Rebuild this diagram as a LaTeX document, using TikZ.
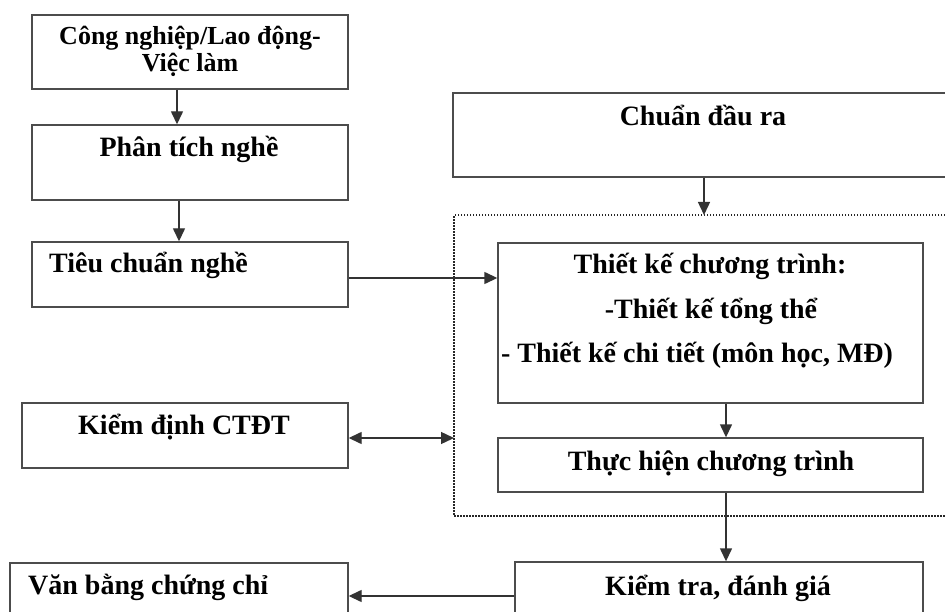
\documentclass[tikz,border=0pt]{standalone}
\usepackage{fontspec}
\setmainfont{Liberation Serif}
\usetikzlibrary{arrows.meta}
\begin{document}
\begin{tikzpicture}[x=1pt,y=-1pt,
  box/.style={draw=black!70, line width=1.4pt, rectangle, inner sep=0pt},
  txt/.style={font=\fontsize{28}{30}\selectfont\bfseries, inner sep=0pt, anchor=base, text=black},
  txtsm/.style={font=\fontsize{26}{27}\selectfont\bfseries, inner sep=0pt, anchor=base, text=black},
  arr/.style={draw=black!80, line width=1.4pt, -{Triangle[length=13pt,width=12pt]}},
  darr/.style={draw=black!80, line width=1.4pt, {Triangle[length=13pt,width=12pt]}-{Triangle[length=13pt,width=12pt]}},
  frame/.style={draw=black!85, line width=2pt, dash pattern=on 1.5pt off 1.5pt}]
\clip (0,0) rectangle (945,612);
\fill[white] (0,0) rectangle (945,612);

% left column
\node[box, minimum width=316pt, minimum height=74pt] (cn) at (190,52) {};
\node[txtsm] (cn1) at (190,45) {Công nghiệp/Lao động-};
\node[txtsm] (cn2) at (190,72) {Việc làm};

\node[box, minimum width=316pt, minimum height=75pt] (pt) at (190,162.5) {};
\node[txt] (ptt) at (189,157) {Phân tích nghề};

\node[box, minimum width=316pt, minimum height=65pt] (tc) at (190,274.5) {};
\node[txt, anchor=base west] (tct) at (49,273) {Tiêu chuẩn nghề};

\node[box, minimum width=326pt, minimum height=65pt] (kd) at (185,435.5) {};
\node[txt] (kdt) at (184,434) {Kiểm định CTĐT};

\node[box, minimum width=338pt, minimum height=70pt] (vb) at (179,598) {};
\node[txt, anchor=base west] (vbt) at (28,594) {Văn bằng chứng chỉ};

% right column
\node[box, minimum width=520pt, minimum height=84pt] (cd) at (713,135) {};
\node[txt] (cdt) at (703,126) {Chuẩn đầu ra};

% dotted frame around design and delivery
\draw[frame] (960,215) -- (454,215) -- (454,516) -- (960,516);
\coordinate (ftop) at (704,215);
\coordinate (fleft) at (454,438);
\coordinate (midcol) at (726,0);

\node[box, minimum width=425pt, minimum height=160pt] (tk) at (710.5,323) {};
\node[txt] (tk1) at (710,274) {Thiết kế chương trình:};
\node[txt] (tk2) at (711,319) {-Thiết kế tổng thể};
\node[txt] (tk3) at (697,362) {- Thiết kế chi tiết (môn học, MĐ)};

\node[box, minimum width=425pt, minimum height=54pt] (th) at (710.5,465) {};
\node[txt] (tht) at (711,470) {Thực hiện chương trình};

\node[box, minimum width=408pt, minimum height=70pt] (kt) at (719,597) {};
\node[txt] (ktt) at (718,595) {Kiểm tra, đánh giá};

\coordinate (lowrow) at (0,596);

% connectors
\draw[arr] ([xshift=-13pt]cn.south) -- ([xshift=-13pt]pt.north);
\draw[arr] ([xshift=-11pt]pt.south) -- ([xshift=-11pt]tc.north);
\draw[arr] ([yshift=-3.5pt]tc.east) -- ([yshift=-3.5pt]tc.east -| tk.west);
\draw[arr] (cd.south -| ftop) -- (ftop);
\draw[arr] (tk.south -| midcol) -- (th.north -| midcol);
\draw[arr] (th.south -| midcol) -- (kt.north -| midcol);
\draw[darr] (kd.east |- fleft) -- (fleft);
\draw[arr] (kt.west |- lowrow) -- (vb.east |- lowrow);
\end{tikzpicture}
\end{document}
